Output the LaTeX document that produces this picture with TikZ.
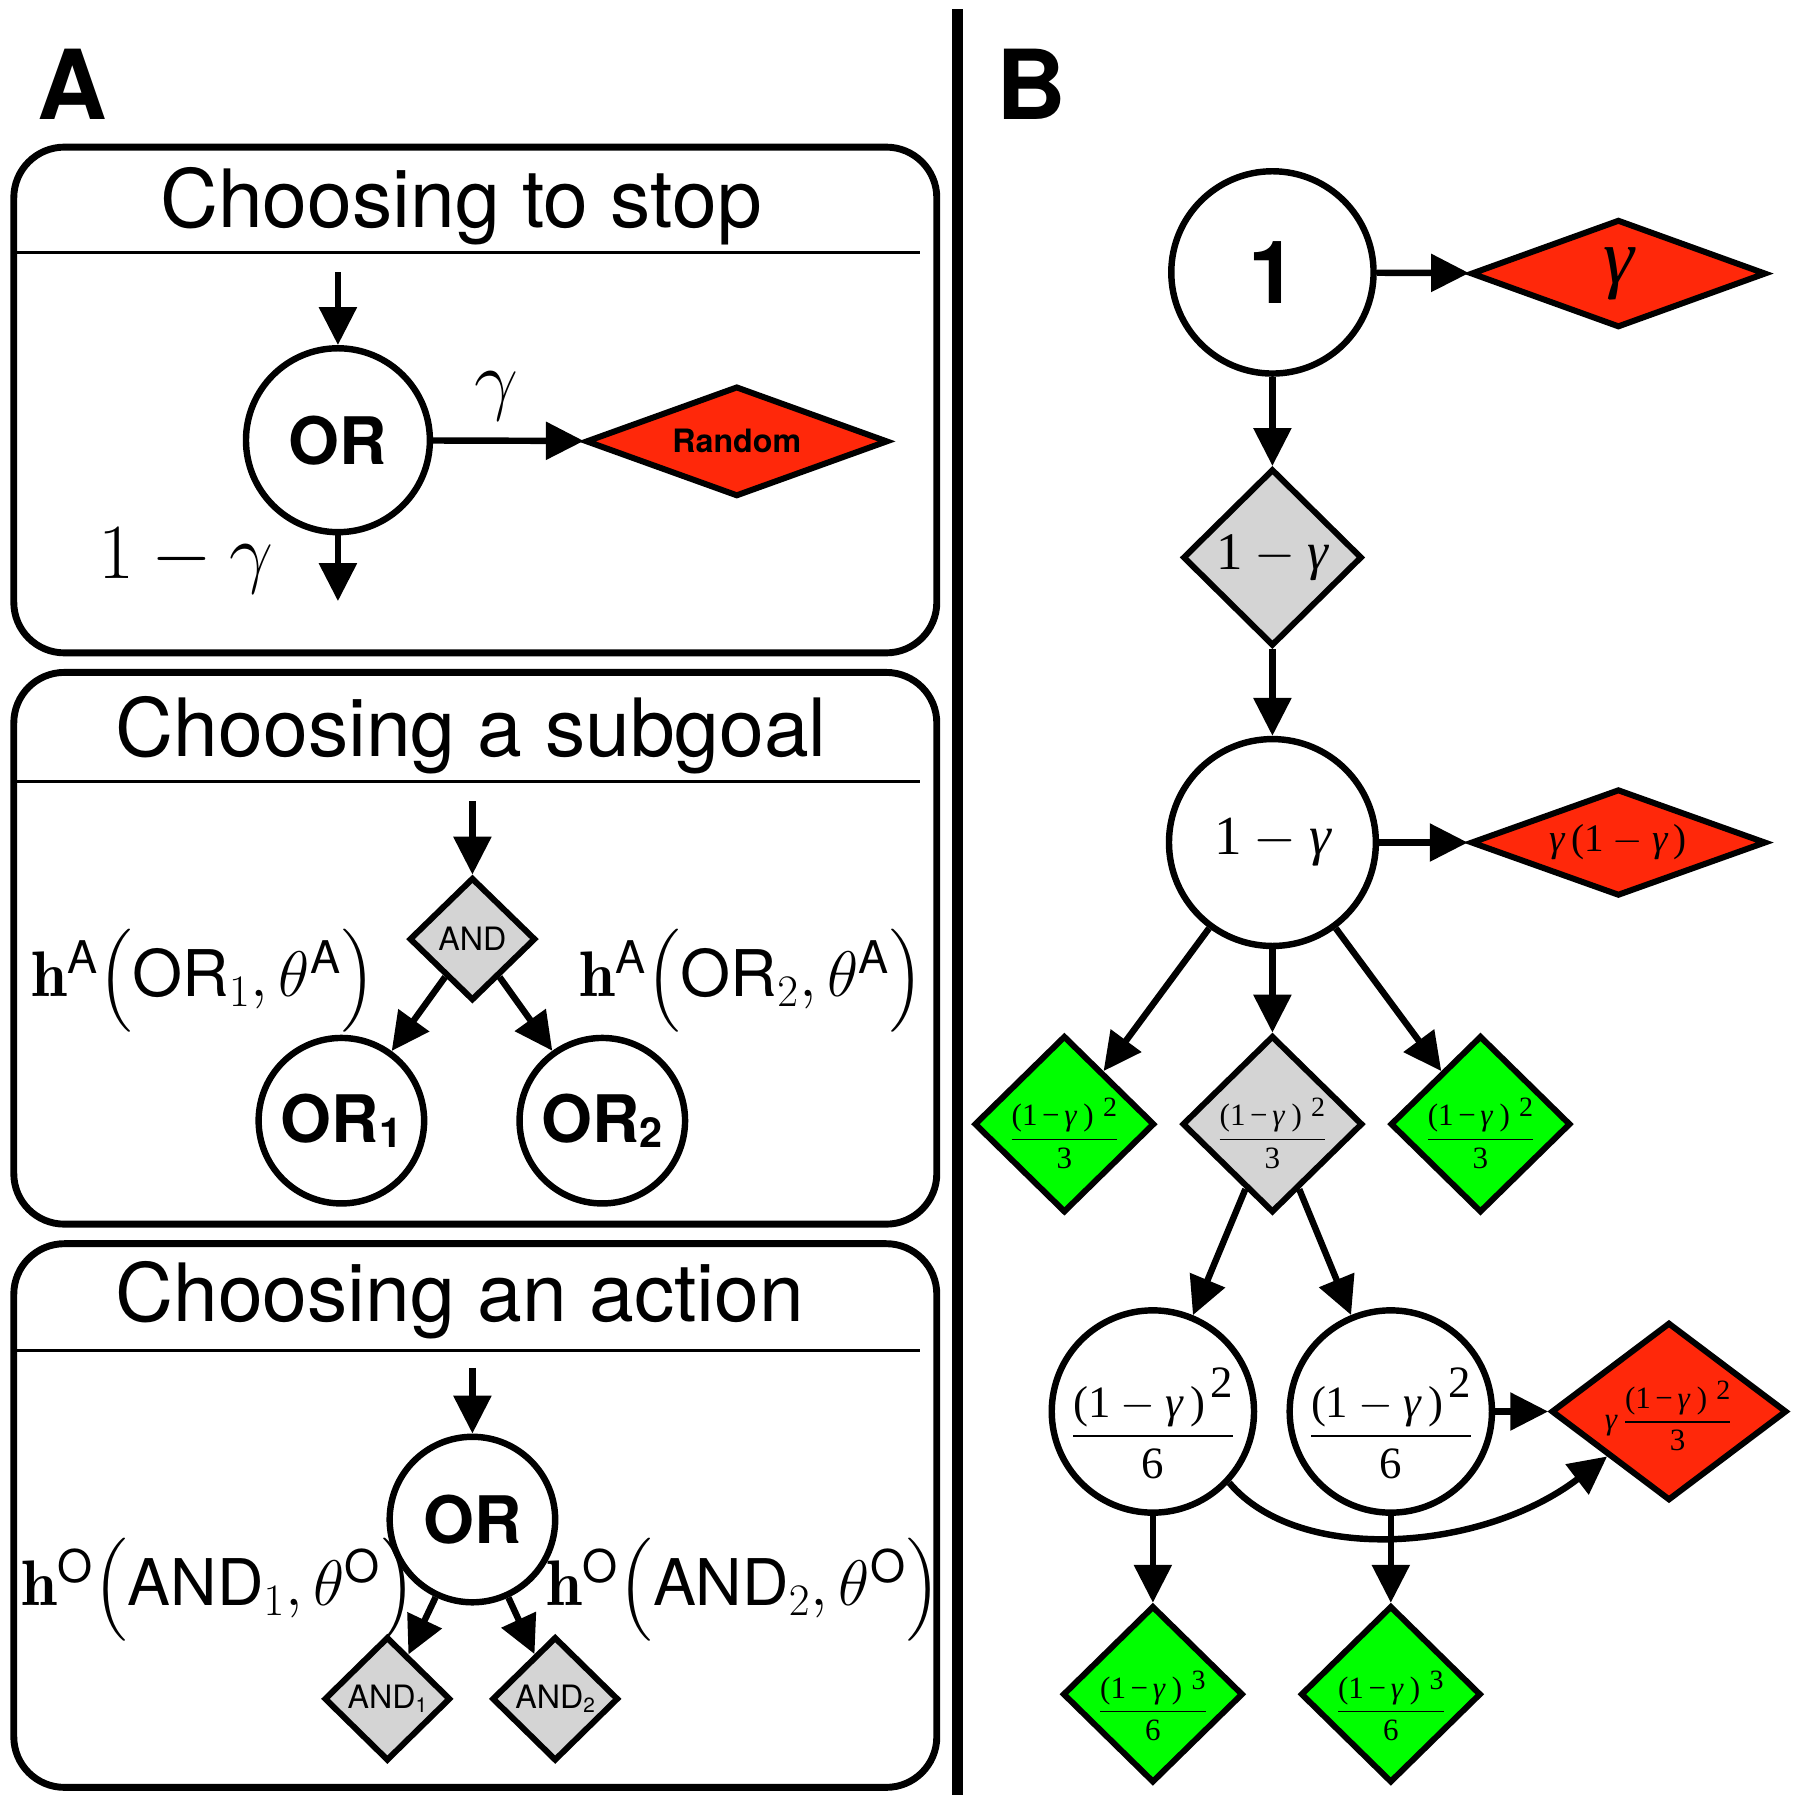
\RequirePackage{fix-cm}
\documentclass[tikz,border=0pt]{standalone}
\usepackage{amsmath}
\usepackage{graphicx}
\usepackage{fontspec}
\setsansfont{TeX Gyre Heros}
\newfontfamily\tms{Liberation Serif}
\usetikzlibrary{shapes.geometric,arrows.meta}
\definecolor{redf}{RGB}{255,40,10}
\definecolor{greenf}{RGB}{0,255,0}
\definecolor{grayf}{RGB}{212,212,212}
\newcommand\fsz[1]{\fontsize{#1}{#1}\selectfont}
\newcommand\tg{\text{\tms\itshape γ}}
\newcommand\tn[1]{\text{\tms #1}}
\newcommand\omg{\tn{1}-\tg}
% numerator (1 - gamma)^k for small diamonds: #1 exponent, #2 raise, #3 scale
\newcommand\numr[3]{\text{\tms(1\hspace{0.15em}−\hspace{0.15em}\textit{γ}\hspace{0.2em})\hspace{0.3em}\raisebox{#2}{\scalebox{#3}{#1}}}}
% numerator for circles
\newcommand\numc[1]{\tn{(1}-\tg\,\tn{)}\mkern2mu\text{\raisebox{0.45em}{\tms #1}}}
\newcommand\dnshift[2]{\raisebox{-#1}[\height][\depth]{#2}}
\begin{document}
\begin{tikzpicture}[x=0.5pt,y=-0.5pt,
  arr/.style={line width=2.8pt,-{Triangle[length=16.5pt,width=16pt]}},
  circ/.style={circle,draw,line width=2.8pt,fill=white,inner sep=-4pt,minimum size=#1},
  dia/.style={diamond,draw,line width=2.6pt,inner sep=-10pt},
  pbox/.style={draw,line width=3pt,rounded corners=22pt},
  rulel/.style={line width=1.4pt},
  ttl/.style={anchor=base,font=\sffamily\fsz{35}},
  plab/.style={font=\sffamily\bfseries\fsz{42}},
  orf/.style={font=\sffamily\bfseries\fsz{28.5}},
  hlab/.style={font=\fsz{28}},
  smalld/.style={dia,minimum width=78.5pt,minimum height=77pt,font=\fsz{13.5}},
]
\useasboundingbox (0,0) rectangle (1560,1566);

% panel labels and divider
\node[plab] (lA) at (63,73) {A};
\node[plab] (lB) at (897,73) {B};
\draw[line width=4.5pt] (833,8) -- (833,1562);

% ---------- Box 1 ----------
\draw[pbox] (12,128) rectangle (815,568);
\node[ttl] (t1) at (401,198) {Choosing to stop};
\draw[rulel] (14,220) -- (800,220);
\coordinate (in1) at (294,237);
\node[circ=80pt,orf] (or1) at (294,383) {OR};
\node[dia,fill=redf,minimum width=131.5pt,minimum height=48pt,font=\sffamily\bfseries\fsz{14}] (rand) at (641,384) {Random};
\coordinate (out1) at (294,523);
\draw[arr] (in1) -- (or1);
\draw[arr] (or1) -- (rand);
\draw[arr] (or1) -- (out1);
\node[font=\fsz{34}] (g1) at (432,345) {$\gamma$};
\node[font=\fsz{34}] (omg1) at (162,488) {$1-\gamma$};

% ---------- Box 2 ----------
\draw[pbox] (12,585) rectangle (815,1065);
\node[ttl] (t2) at (410,658) {Choosing a subgoal};
\draw[rulel] (14,680) -- (800,680);
\coordinate (in2) at (411,697);
\node[dia,fill=grayf,minimum width=55pt,minimum height=53.5pt,font=\sffamily\fsz{14}] (and) at (411,817) {AND};
\node[circ=72pt,orf] (ora) at (297,975) {OR\raisebox{-2.5pt}{\fsz{18}1}};
\node[circ=72pt,orf] (orb) at (524,975) {OR\raisebox{-2.5pt}{\fsz{18}2}};
\draw[arr] (in2) -- (and);
\draw[arr] (and) -- (ora);
\draw[arr] (and) -- (orb);
\node[hlab] (ha1) at (177,853) {$\mathbf{h}^{\textsf{A}}\big(\textsf{OR}_1,\theta^{\textsf{A}}\big)$};
\node[hlab] (ha2) at (654,853) {$\mathbf{h}^{\textsf{A}}\big(\textsf{OR}_2,\theta^{\textsf{A}}\big)$};

% ---------- Box 3 ----------
\draw[pbox] (12,1082) rectangle (815,1555);
\node[ttl] (t3) at (400,1150) {Choosing an action};
\draw[rulel] (14,1175) -- (800,1175);
\coordinate (in3) at (411,1190);
\node[circ=72pt,orf] (orc) at (411,1322) {OR};
\node[dia,fill=grayf,minimum width=55pt,minimum height=54pt,font=\sffamily\fsz{14}] (and1) at (337,1478) {AND\raisebox{-2pt}{\fsz{9}1}};
\node[dia,fill=grayf,minimum width=55pt,minimum height=54pt,font=\sffamily\fsz{14}] (and2) at (483,1478) {AND\raisebox{-2pt}{\fsz{9}2}};
\draw[arr] (in3) -- (orc);
\draw[arr] (orc) -- (and1);
\draw[arr] (orc) -- (and2);
\node[hlab] (ho1) at (190,1383) {$\mathbf{h}^{\textsf{O}}\big(\textsf{AND}_1,\theta^{\textsf{O}}\big)$};
\node[hlab] (ho2) at (647,1383) {$\mathbf{h}^{\textsf{O}}\big(\textsf{AND}_2,\theta^{\textsf{O}}\big)$};

% ---------- Panel B ----------
\node[circ=88pt,font=\sffamily\bfseries\fsz{38}] (c1) at (1107,237) {1};
\node[dia,fill=redf,minimum width=128.5pt,minimum height=47pt,font=\fsz{34}] (r1) at (1408,238) {$\tg$};
\node[dia,fill=grayf,minimum width=78pt,minimum height=77pt,font=\fsz{23}] (d1) at (1107,485) {$\omg$};
\node[circ=90pt,font=\fsz{24}] (c2) at (1107,733) {$\omg$};
\node[dia,fill=redf,minimum width=128.5pt,minimum height=46.5pt,font=\fsz{17}] (r2) at (1408,733) {$\tg\,\tn{(1}-\tg\,\tn{)}$};
\node[smalld,fill=greenf] (gl) at (926,978) {\dnshift{4pt}{$\dfrac{\numr{2}{0.3em}{0.9}}{\tn{3}}$}};
\node[smalld,fill=grayf] (gm) at (1107,978) {\dnshift{4pt}{$\dfrac{\numr{2}{0.3em}{0.9}}{\tn{3}}$}};
\node[smalld,fill=greenf] (gr) at (1288,978) {\dnshift{4pt}{$\dfrac{\numr{2}{0.3em}{0.9}}{\tn{3}}$}};
\node[circ=88pt,font=\fsz{19.5}] (cl) at (1003,1228) {\dnshift{5pt}{$\dfrac{\numc{2}}{\tn{6}}$}};
\node[circ=88pt,font=\fsz{19.5}] (cr) at (1210,1228) {\dnshift{5pt}{$\dfrac{\numc{2}}{\tn{6}}$}};
\node[dia,fill=redf,minimum width=102.5pt,minimum height=77.5pt,font=\fsz{13.5}] (r3) at (1452,1228) {\dnshift{2pt}{$\tg\,\dfrac{\numr{2}{0.3em}{0.9}}{\tn{3}}$}};
\node[smalld,fill=greenf] (bl) at (1003,1474) {\dnshift{5pt}{$\dfrac{\numr{3}{0.3em}{0.9}}{\tn{6}}$}};
\node[smalld,fill=greenf] (br) at (1210,1474) {\dnshift{5pt}{$\dfrac{\numr{3}{0.3em}{0.9}}{\tn{6}}$}};

\draw[arr] (c1) -- (r1);
\draw[arr] (c1) -- (d1);
\draw[arr] (d1) -- (c2);
\draw[arr] (c2) -- (r2);
\draw[arr] (c2) -- (gl);
\draw[arr] (c2) -- (gm);
\draw[arr] (c2) -- (gr);
\draw[arr] (gm) -- (cl);
\draw[arr] (gm) -- (cr);
\draw[arr] (cr) -- (r3);
\draw[arr] (cl.-43) .. controls (1130,1362) and (1290,1350) .. (r3.216);
\draw[arr] (cl) -- (bl);
\draw[arr] (cr) -- (br);
\end{tikzpicture}
\end{document}
